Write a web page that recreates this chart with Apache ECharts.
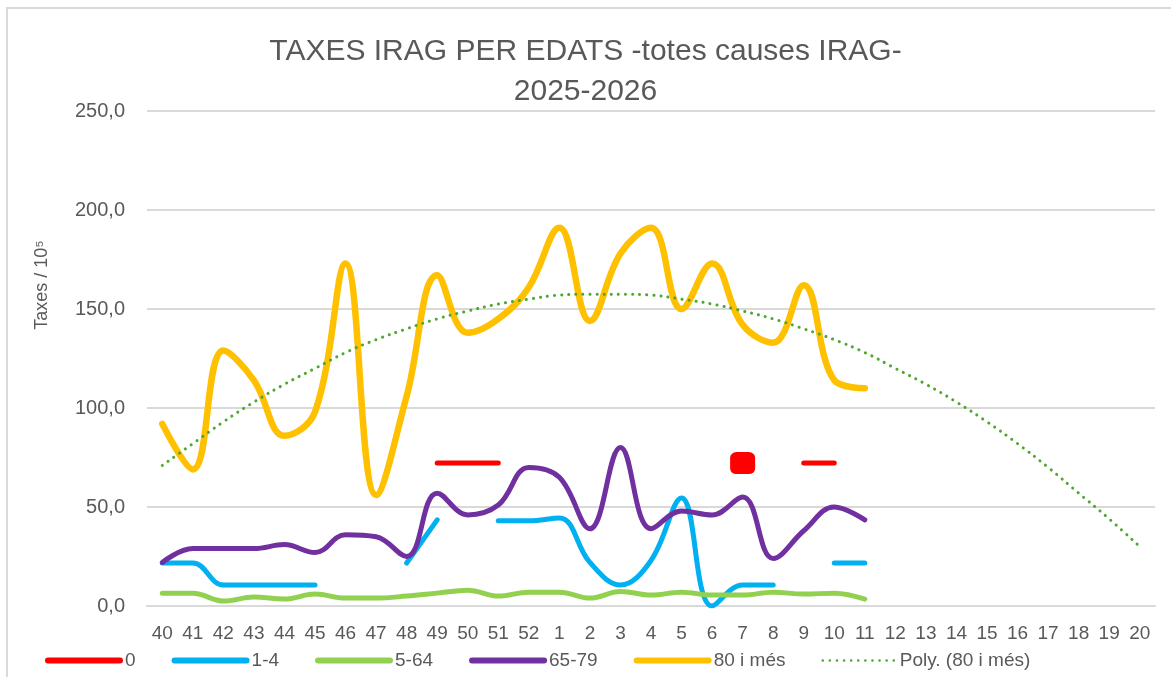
<!DOCTYPE html>
<html>
<head>
<meta charset="utf-8">
<script src="https://cdn.jsdelivr.net/npm/echarts@6/dist/echarts.min.js"></script>
<style>
  html, body { margin: 0; padding: 0; background: #fff; overflow: hidden; }
  #frame { position: absolute; left: 6px; top: 7px; width: 1200px; height: 700px; border: 2px solid #d9d9d9; }
  #chart { position: absolute; left: 0; top: 0; width: 1171px; height: 677px; }
</style>
</head>
<body>
<div id="frame"></div>
<div id="chart"></div>
<script>
const weeks = ['40', '41', '42', '43', '44', '45', '46', '47', '48', '49', '50', '51', '52',
  '1', '2', '3', '4', '5', '6', '7', '8', '9', '10', '11', '12', '13', '14', '15', '16', '17', '18', '19', '20'];

// taxes per 100.000 habitants, per grup d'edat
const age0 = [null, null, null, null, null, null, null, null, null, 72.2, 72.2, 72.2, null,
  null, null, null, null, null, null, 72.2, null, 72.2, 72.2, null];
const age1to4 = [21.7, 21.7, 10.6, 10.6, 10.6, 10.6, null, null, 21.7, 43.5, null, 43, 43,
  44.5, 22, 10.6, 23, 54.5, 0, 10.6, 10.6, null, 21.7, 21.7];
const age5to64 = [6.5, 6.5, 2.5, 4.5, 3.5, 6, 4, 4, 5, 6.5, 8, 5, 7,
  7, 4, 7.3, 5.5, 7, 5.5, 5.5, 7, 6, 6.5, 3.5];
const age65to79 = [22, 29, 29, 29, 31, 27, 36, 35, 25, 57, 46, 51, 70,
  65, 39, 80, 39, 48, 46, 55, 24, 38, 50, 43.5];
const age80plus = [92, 69, 129, 114, 86, 98, 173, 56, 106, 167, 138, 145, 161,
  191, 144, 178, 191, 150, 173, 142, 133, 162, 114, 110];
const trend80plus = [71, 82, 93, 103, 112, 120, 128, 134.5, 140, 145, 149, 152.5, 155,
  157, 157.5, 157.5, 157, 155, 152.5, 149, 145, 140, 134.5, 128, 120, 112, 103, 93, 82, 70, 57, 44, 30];

const textColor = '#595959';
const font = 'Liberation Sans, Arial, sans-serif';

function lineSeries(name, data, color, width) {
  return {
    name: name,
    type: 'line',
    data: data,
    smooth: 0.4,
    symbol: 'none',
    lineStyle: { color: color, width: width, cap: 'round', join: 'round' },
    itemStyle: { color: color },
    emphasis: { disabled: true }
  };
}

// the isolated week-7 value of group 0 is shown as a marker, like in Excel
const age0Data = age0.map((v, i) => (i === 19 ? { value: v, symbol: 'roundRect', symbolSize: [25, 22] } : v));

const legendNames = ['0', '1-4', '5-64', '65-79', '80 i més'];

const chart = echarts.init(document.getElementById('chart'));
chart.setOption({
  animation: false,
  textStyle: { fontFamily: font },
  title: {
    text: 'TAXES IRAG PER EDATS -totes causes IRAG-\n2025-2026',
    left: 'center',
    top: 27,
    textStyle: { color: textColor, fontSize: 30, fontWeight: 'normal', lineHeight: 40, fontFamily: font }
  },
  grid: { left: 147, right: 16, top: 111, bottom: 71 },
  legend: {
    left: 45,
    top: 651,
    padding: 0,
    itemWidth: 72,
    itemHeight: 14,
    itemGap: 36,
    itemStyle: { opacity: 0 },
    data: legendNames.map((n) => ({ name: n, lineStyle: { width: 6, cap: 'round' } }))
      .concat([{ name: 'Poly. (80 i més)', lineStyle: { width: 2.5, cap: 'round' } }]),
    textStyle: { color: textColor, fontSize: 19, fontFamily: font }
  },
  xAxis: {
    type: 'category',
    data: weeks,
    axisLine: { lineStyle: { color: '#d9d9d9', width: 2 } },
    axisTick: { show: false },
    axisLabel: { color: textColor, fontSize: 19, interval: 0, margin: 18 }
  },
  yAxis: {
    type: 'value',
    min: 0,
    max: 250,
    interval: 50,
    axisLine: { show: false },
    axisTick: { show: false },
    splitLine: { lineStyle: { color: '#d9d9d9', width: 2 } },
    axisLabel: {
      color: textColor,
      fontSize: 20,
      margin: 22,
      formatter: (v) => v.toFixed(1).replace('.', ',')
    }
  },
  graphic: [{
    type: 'text',
    x: 42,
    y: 285,
    rotation: Math.PI / 2,
    style: {
      text: 'Taxes / 10⁵',
      fill: textColor,
      font: '18px ' + font,
      align: 'center',
      verticalAlign: 'middle'
    }
  }],
  series: [
    lineSeries('0', age0Data, '#FF0000', 5),
    lineSeries('1-4', age1to4, '#00B0F0', 5),
    lineSeries('5-64', age5to64, '#92D050', 5),
    lineSeries('65-79', age65to79, '#7030A0', 5),
    lineSeries('80 i més', age80plus, '#FFC000', 6.5),
    {
      name: 'Poly. (80 i més)',
      type: 'line',
      data: trend80plus,
      smooth: true,
      symbol: 'none',
      lineStyle: { color: '#4EA72E', width: 3, type: [0.1, 7], cap: 'round' },
      itemStyle: { color: '#4EA72E' },
      emphasis: { disabled: true }
    }
  ]
});
</script>
</body>
</html>
